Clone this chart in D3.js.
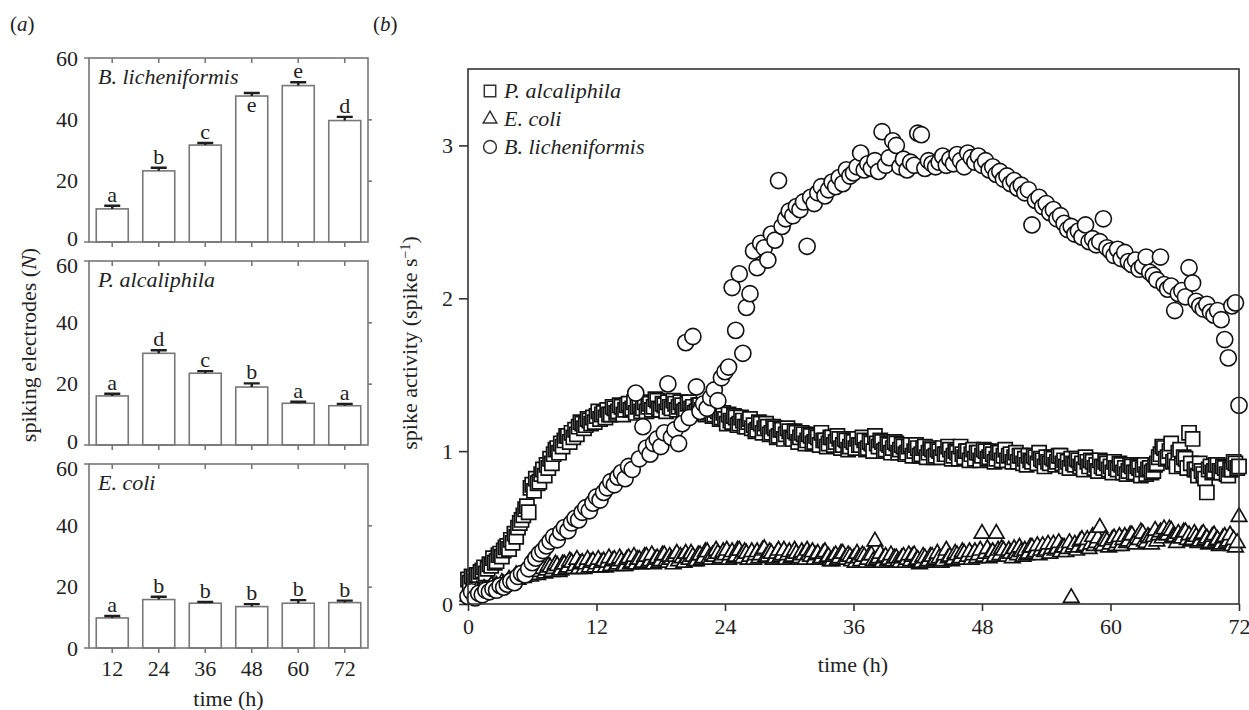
<!DOCTYPE html>
<html>
<head>
<meta charset="utf-8">
<script src="https://cdn.jsdelivr.net/npm/d3@7"></script>
<style>
  body { margin: 0; background: #fff; }
  text { font-family: "Liberation Serif", "Times New Roman", serif; fill: #222; }
</style>
</head>
<body>
<svg id="fig" width="1249" height="710"></svg>
<script>
// ---------- panel (a) data ----------
const hours = ["12", "24", "36", "48", "60", "72"]
const species = ["B. licheniformis", "P. alcaliphila", "E. coli"]

const lichMean = [10.8, 23.2, 31.6, 47.6, 51.0, 39.6]
const lichErr = [1.0, 1.0, 0.7, 1.0, 1.1, 1.2]
const lichLetters = ["a", "b", "c", "e", "e", "d"]

const alcMean = [16.0, 29.9, 23.4, 18.9, 13.6, 12.8]
const alcErr = [0.7, 1.0, 0.7, 1.2, 0.5, 0.6]
const alcLetters = ["a", "d", "c", "b", "a", "a"]

const coliMean = [9.8, 15.8, 14.6, 13.5, 14.6, 14.8]
const coliErr = [0.65, 0.9, 0.45, 0.8, 1.0, 0.65]
const coliLetters = ["a", "b", "b", "b", "b", "b"]

// the one letter written inside the bar (B. licheniformis, 48 h)
const letterInside = [[false, false, false, true, false, false], [], []]

// ---------- panel (b) data ----------
// P. alcaliphila and E. coli: one reading every 10 min; B. licheniformis: every 20 min
const alcStep = 1 / 6
const coliStep = 1 / 6
const lichStep = 1 / 3

const alcSpikes = [
  0.16, 0.14, 0.18, 0.17, 0.15, 0.19, 0.19, 0.21, 0.22, 0.24, 0.20, 0.23,
  0.26, 0.25, 0.30, 0.27, 0.28, 0.32, 0.33, 0.31, 0.35, 0.37, 0.38, 0.36,
  0.42, 0.40, 0.46, 0.44, 0.50, 0.53, 0.55, 0.58, 0.62, 0.64, 0.60, 0.76,
  0.78, 0.74, 0.82, 0.79, 0.80, 0.85, 0.88, 0.84, 0.91, 0.89, 0.95, 0.92,
  0.98, 1.01, 1.02, 0.99, 1.05, 1.03, 1.07, 1.10, 1.10, 1.06, 1.12, 1.09,
  1.14, 1.11, 1.16, 1.19, 1.18, 1.15, 1.17, 1.21, 1.20, 1.18, 1.22, 1.19,
  1.23, 1.26, 1.21, 1.24, 1.25, 1.22, 1.27, 1.24, 1.24, 1.29, 1.28, 1.25,
  1.26, 1.30, 1.29, 1.24, 1.27, 1.30, 1.31, 1.27, 1.28, 1.32, 1.25, 1.29,
  1.30, 1.26, 1.28, 1.32, 1.26, 1.29, 1.31, 1.27, 1.29, 1.34, 1.33, 1.28,
  1.27, 1.31, 1.30, 1.26, 1.32, 1.29, 1.28, 1.33, 1.31, 1.27, 1.29, 1.32,
  1.30, 1.26, 1.27, 1.31, 1.32, 1.28, 1.29, 1.25, 1.26, 1.30, 1.30, 1.27,
  1.28, 1.24, 1.25, 1.29, 1.27, 1.23, 1.24, 1.27, 1.26, 1.21, 1.22, 1.25,
  1.21, 1.18, 1.24, 1.20, 1.19, 1.23, 1.22, 1.17, 1.18, 1.22, 1.20, 1.16,
  1.16, 1.19, 1.21, 1.15, 1.17, 1.13, 1.14, 1.19, 1.18, 1.12, 1.15, 1.18,
  1.16, 1.11, 1.12, 1.16, 1.15, 1.09, 1.10, 1.14, 1.14, 1.08, 1.11, 1.15,
  1.13, 1.09, 1.08, 1.13, 1.12, 1.06, 1.09, 1.12, 1.11, 1.05, 1.07, 1.11,
  1.10, 1.05, 1.06, 1.10, 1.09, 1.04, 1.12, 1.07, 1.07, 1.03, 1.05, 1.09,
  1.09, 1.04, 1.06, 1.10, 1.08, 1.02, 1.04, 1.08, 1.07, 1.01, 1.03, 1.07,
  1.06, 1.02, 1.08, 1.04, 1.04, 1.09, 1.07, 1.01, 1.02, 1.06, 1.05, 1.00,
  1.10, 1.05, 1.03, 1.07, 1.06, 1.00, 1.01, 1.05, 1.04, 0.99, 1.02, 1.06,
  1.05, 0.99, 1.01, 1.04, 1.03, 0.98, 0.99, 1.03, 1.04, 0.97, 1.00, 1.04,
  1.02, 0.97, 0.98, 1.02, 1.03, 0.96, 0.99, 1.02, 1.01, 0.96, 0.97, 1.01,
  1.00, 0.96, 1.02, 0.98, 0.98, 1.03, 1.01, 0.95, 0.97, 1.00, 0.99, 0.95,
  1.03, 0.98, 0.96, 1.00, 1.00, 0.94, 0.98, 1.01, 0.95, 0.99, 0.99, 0.94,
  0.97, 1.01, 1.00, 0.95, 0.96, 1.00, 0.98, 0.93, 0.95, 0.99, 0.99, 0.94,
  0.97, 1.01, 0.94, 0.97, 0.98, 0.93, 0.96, 0.99, 0.93, 0.97, 0.97, 0.92,
  0.95, 0.91, 0.97, 0.94, 0.93, 0.97, 0.96, 0.92, 0.99, 0.95, 0.94, 0.90,
  0.96, 0.93, 0.92, 0.96, 0.95, 0.91, 0.93, 0.97, 0.97, 0.92, 0.94, 0.90,
  0.93, 0.89, 0.95, 0.92, 0.91, 0.95, 0.94, 0.90, 0.92, 0.88, 0.96, 0.93,
  0.90, 0.94, 0.93, 0.89, 0.91, 0.87, 0.94, 0.90, 0.89, 0.93, 0.92, 0.88,
  0.90, 0.86, 0.93, 0.89, 0.88, 0.92, 0.91, 0.86, 0.89, 0.85, 0.87, 0.91,
  0.90, 0.86, 0.86, 0.90, 0.89, 0.84, 0.88, 0.91, 0.85, 0.88, 0.89, 0.86,
  0.87, 0.91, 0.92, 0.96, 0.98, 1.03, 1.02, 0.95, 0.96, 1.00, 1.05, 0.93,
  0.94, 0.90, 0.99, 1.01, 0.91, 0.96, 0.95, 0.89, 1.12, 0.92, 1.08, 0.88,
  0.88, 0.84, 0.92, 0.87, 0.85, 0.82, 0.73, 0.88, 0.90, 0.86, 0.87, 0.91,
  0.91, 0.87, 0.86, 0.90, 0.89, 0.85, 0.84, 0.88, 0.88, 0.93, 0.92, 0.89,
  0.90
]

const coliSpikes = [
  0.05, 0.07, 0.07, 0.05, 0.06, 0.09, 0.08, 0.06, 0.07, 0.10, 0.09, 0.08,
  0.10, 0.12, 0.09, 0.11, 0.12, 0.10, 0.11, 0.14, 0.13, 0.12, 0.14, 0.16,
  0.15, 0.14, 0.17, 0.19, 0.16, 0.18, 0.19, 0.17, 0.18, 0.21, 0.20, 0.18,
  0.19, 0.22, 0.22, 0.19, 0.21, 0.24, 0.23, 0.20, 0.22, 0.25, 0.24, 0.21,
  0.23, 0.26, 0.25, 0.21, 0.22, 0.26, 0.26, 0.23, 0.24, 0.28, 0.27, 0.23,
  0.25, 0.29, 0.23, 0.26, 0.27, 0.23, 0.26, 0.29, 0.24, 0.27, 0.28, 0.24,
  0.26, 0.29, 0.24, 0.27, 0.28, 0.24, 0.27, 0.30, 0.25, 0.28, 0.29, 0.25,
  0.26, 0.30, 0.28, 0.25, 0.25, 0.29, 0.30, 0.26, 0.27, 0.31, 0.26, 0.29,
  0.29, 0.26, 0.27, 0.31, 0.31, 0.27, 0.28, 0.32, 0.26, 0.29, 0.30, 0.27,
  0.28, 0.32, 0.32, 0.28, 0.27, 0.31, 0.29, 0.26, 0.31, 0.33, 0.28, 0.31,
  0.30, 0.27, 0.33, 0.30, 0.29, 0.33, 0.31, 0.28, 0.28, 0.32, 0.32, 0.29,
  0.30, 0.34, 0.34, 0.30, 0.29, 0.32, 0.31, 0.35, 0.33, 0.29, 0.30, 0.34,
  0.32, 0.35, 0.29, 0.32, 0.34, 0.30, 0.31, 0.35, 0.35, 0.31, 0.30, 0.34,
  0.33, 0.29, 0.31, 0.34, 0.29, 0.32, 0.34, 0.30, 0.32, 0.35, 0.36, 0.31,
  0.31, 0.34, 0.33, 0.29, 0.30, 0.33, 0.35, 0.31, 0.32, 0.35, 0.29, 0.32,
  0.34, 0.30, 0.31, 0.35, 0.33, 0.29, 0.30, 0.34, 0.32, 0.29, 0.35, 0.32,
  0.31, 0.34, 0.29, 0.32, 0.33, 0.29, 0.30, 0.33, 0.34, 0.30, 0.31, 0.28,
  0.28, 0.31, 0.32, 0.29, 0.30, 0.33, 0.33, 0.29, 0.29, 0.32, 0.31, 0.28,
  0.30, 0.27, 0.33, 0.30, 0.28, 0.32, 0.31, 0.27, 0.29, 0.32, 0.32, 0.28,
  0.41, 0.29, 0.30, 0.33, 0.27, 0.30, 0.31, 0.28, 0.29, 0.32, 0.28, 0.30,
  0.30, 0.28, 0.27, 0.30, 0.31, 0.27, 0.29, 0.32, 0.28, 0.31, 0.32, 0.28,
  0.29, 0.26, 0.27, 0.31, 0.30, 0.27, 0.28, 0.31, 0.31, 0.28, 0.29, 0.33,
  0.30, 0.27, 0.28, 0.32, 0.35, 0.30, 0.31, 0.28, 0.29, 0.33, 0.32, 0.29,
  0.30, 0.34, 0.33, 0.29, 0.31, 0.34, 0.29, 0.32, 0.34, 0.30, 0.32, 0.35,
  0.46, 0.31, 0.33, 0.36, 0.30, 0.33, 0.34, 0.31, 0.46, 0.35, 0.32, 0.36,
  0.35, 0.31, 0.31, 0.35, 0.33, 0.30, 0.36, 0.33, 0.32, 0.37, 0.34, 0.31,
  0.35, 0.32, 0.33, 0.37, 0.37, 0.33, 0.34, 0.38, 0.32, 0.35, 0.38, 0.34,
  0.35, 0.39, 0.33, 0.36, 0.39, 0.35, 0.36, 0.40, 0.34, 0.37, 0.37, 0.34,
  0.36, 0.40, 0.04, 0.37, 0.39, 0.35, 0.37, 0.41, 0.42, 0.37, 0.38, 0.42,
  0.36, 0.39, 0.44, 0.38, 0.40, 0.43, 0.50, 0.39, 0.38, 0.42, 0.41, 0.37,
  0.39, 0.42, 0.43, 0.38, 0.40, 0.44, 0.38, 0.42, 0.44, 0.40, 0.41, 0.45,
  0.45, 0.40, 0.39, 0.43, 0.42, 0.47, 0.46, 0.41, 0.40, 0.44, 0.43, 0.39,
  0.44, 0.48, 0.41, 0.45, 0.47, 0.43, 0.49, 0.45, 0.45, 0.49, 0.48, 0.44,
  0.44, 0.40, 0.46, 0.43, 0.43, 0.47, 0.47, 0.42, 0.45, 0.41, 0.42, 0.46,
  0.44, 0.40, 0.41, 0.45, 0.46, 0.42, 0.43, 0.39, 0.40, 0.44, 0.45, 0.41,
  0.42, 0.38, 0.39, 0.43, 0.44, 0.40, 0.41, 0.45, 0.38, 0.42, 0.37, 0.40,
  0.57
]

const lichSpikes = [
  0.05, 0.08, 0.04, 0.07, 0.06, 0.09, 0.08, 0.10, 0.09, 0.12, 0.11, 0.13,
  0.15, 0.14, 0.18, 0.20, 0.19, 0.23, 0.27, 0.30, 0.33, 0.35, 0.38, 0.41,
  0.44, 0.42, 0.47, 0.50, 0.48, 0.53, 0.56, 0.55, 0.60, 0.63, 0.61, 0.66,
  0.70, 0.68, 0.73, 0.76, 0.80, 0.78, 0.83, 0.86, 0.82, 0.90, 0.88, 1.38,
  0.95, 1.16, 1.02, 0.98, 1.05, 1.08, 1.03, 1.12, 1.44, 1.09, 1.14, 1.05,
  1.18, 1.71, 1.22, 1.75, 1.42, 1.26, 1.31, 1.28, 1.35, 1.40, 1.33, 1.48,
  1.52, 1.55, 2.07, 1.79, 2.16, 1.64, 1.94, 2.03, 2.31, 2.20, 2.36, 2.33,
  2.25, 2.42, 2.38, 2.77, 2.47, 2.52, 2.57, 2.54, 2.60, 2.58, 2.63, 2.34,
  2.66, 2.62, 2.69, 2.73, 2.67, 2.71, 2.76, 2.73, 2.79, 2.75, 2.84, 2.80,
  2.82, 2.86, 2.95, 2.84, 2.88, 2.85, 2.90, 2.83, 3.09, 2.87, 2.92, 3.03,
  3.00, 2.86, 2.91, 2.84, 2.89, 2.87, 3.08, 3.07, 2.85, 2.90, 2.88, 2.86,
  2.89, 2.93, 2.87, 2.91, 2.88, 2.94, 2.90, 2.86, 2.95, 2.92, 2.89, 2.93,
  2.87, 2.90, 2.84, 2.86, 2.81, 2.83, 2.78, 2.80, 2.75, 2.77, 2.72, 2.74,
  2.69, 2.71, 2.48, 2.64, 2.66, 2.60, 2.62, 2.56, 2.58, 2.52, 2.54, 2.49,
  2.45, 2.47, 2.42, 2.44, 2.40, 2.48, 2.37, 2.39, 2.35, 2.37, 2.52, 2.33,
  2.31, 2.28, 2.32, 2.26, 2.30, 2.24, 2.22, 2.25, 2.19, 2.21, 2.27, 2.17,
  2.15, 2.12, 2.27, 2.09, 2.06, 2.08, 1.92, 2.03, 2.05, 2.01, 2.20, 2.10,
  1.98, 1.95, 1.93, 1.96, 1.91, 1.89, 1.92, 1.86, 1.73, 1.61, 1.95, 1.97,
  1.30
]

const timeTicks = [0, 12, 24, 36, 48, 60, 72]
const spikeTicks = [0, 1, 2, 3]

const svg = d3.select("#fig")
const gray = "#777"
const ink = "#111"

// ================= panel (a) =================
const barPanels = [
  {name: species[0], mean: lichMean, err: lichErr, letters: lichLetters, inside: letterInside[0]},
  {name: species[1], mean: alcMean, err: alcErr, letters: alcLetters, inside: letterInside[1]},
  {name: species[2], mean: coliMean, err: coliErr, letters: coliLetters, inside: letterInside[2]}
]
const aLeft = 89, aRight = 368, aHeight = 184
const aTops = [58, 261, 464]

const xA = d3.scaleBand().domain(hours).range([aLeft, aRight]).paddingInner(0.312).paddingOuter(0.156)

svg.append("text").attr("x", 10).attr("y", 31).style("font-size", "21px")
    .html('(<tspan font-style="italic">a</tspan>)')

barPanels.forEach((p, i) => {
    const top = aTops[i]
    const yA = d3.scaleLinear().domain([0, 60]).range([top + aHeight, top])
    const g = svg.append("g")

    // bars
    g.selectAll("rect.bar").data(p.mean).enter().append("rect")
        .attr("x", (d, j) => xA(hours[j]))
        .attr("y", d => yA(d))
        .attr("width", xA.bandwidth())
        .attr("height", d => yA(0) - yA(d))
        .style("fill", "#fff").style("stroke", gray).style("stroke-width", 1.6)

    // error bars
    g.selectAll("path.err").data(p.mean).enter().append("path")
        .attr("d", (d, j) => {
            const cx = xA(hours[j]) + xA.bandwidth() / 2
            const yTop = yA(d + p.err[j])
            return "M" + cx + "," + yA(d) + "V" + yTop + "M" + (cx - 8) + "," + yTop + "H" + (cx + 8)
        })
        .style("fill", "none").style("stroke", "#1e1e1e").style("stroke-width", 2.4)

    // significance letters
    g.selectAll("text.lt").data(p.letters).enter().append("text")
        .attr("x", (d, j) => xA(hours[j]) + xA.bandwidth() / 2)
        .attr("y", (d, j) => p.inside[j] ? yA(p.mean[j]) + 16 : yA(p.mean[j] + p.err[j]) - 4)
        .attr("text-anchor", "middle").style("font-size", "22px")
        .text(d => d)

    // frame
    g.append("rect").attr("x", aLeft).attr("y", top).attr("width", aRight - aLeft).attr("height", aHeight)
        .style("fill", "none").style("stroke", gray).style("stroke-width", 1.6)
    g.append("path").attr("d", "M" + (aLeft - 5) + "," + yA(0) + "H" + aLeft + "M" + (aLeft - 5) + "," + yA(60) + "H" + aLeft)
        .style("stroke", gray).style("stroke-width", 1.6)

    // axes
    const left = g.append("g").attr("transform", "translate(" + aLeft + ",0)")
        .call(d3.axisLeft(yA).tickValues([0, 20, 40, 60]).tickSize(0).tickPadding(11))
    // panels sit close together: pull the 0 label up and the 60 label down a little
    left.selectAll(".tick text")
        .attr("y", d => (d === 0 && i < 2) ? -4 : (d === 60 && i > 0) ? 4 : 0)
    const right = g.append("g").attr("transform", "translate(" + aRight + ",0)")
        .call(d3.axisRight(yA).tickValues([20, 40]).tickSize(4).tickFormat(""))
    const topAx = g.append("g").attr("transform", "translate(0," + top + ")")
        .call(d3.axisTop(xA).tickSize(-5).tickFormat(""))
    const bottom = g.append("g").attr("transform", "translate(0," + yA(0) + ")")
        .call(d3.axisBottom(xA).tickSize(5).tickPadding(7).tickFormat(i === 2 ? (d => d) : ""))
    ;[left, right, topAx, bottom].forEach(ax => {
        ax.select(".domain").remove()
        ax.selectAll("line").style("stroke", gray).style("stroke-width", 1.6)
        ax.selectAll("text").style("font-family", "Liberation Serif").style("font-size", "22px").style("fill", "#222")
    })

    g.append("text").attr("x", aLeft + 9).attr("y", top + 26)
        .style("font-size", "22px").style("font-style", "italic").text(p.name)
})

svg.append("text").attr("x", (aLeft + aRight) / 2).attr("y", 706).attr("text-anchor", "middle")
    .style("font-size", "22px").text("time (h)")
svg.append("text").attr("transform", "translate(36,345) rotate(-90)").attr("text-anchor", "middle")
    .style("font-size", "22px")
    .html('spiking electrodes (<tspan font-style="italic">N</tspan>)')

// ================= panel (b) =================
const xB = d3.scaleLinear().domain([0, 72]).range([468, 1239])
const yB = d3.scaleLinear().domain([0, 3.5]).range([604, 69])

svg.append("text").attr("x", 373).attr("y", 31).style("font-size", "21px")
    .html('(<tspan font-style="italic">b</tspan>)')

const gb = svg.append("g")
const axL = gb.append("g").attr("transform", "translate(468,0)")
    .call(d3.axisLeft(yB).tickValues(spikeTicks).tickSize(9).tickPadding(6).tickFormat(d3.format("d")))
const axB = gb.append("g").attr("transform", "translate(0,604)")
    .call(d3.axisBottom(xB).tickValues(timeTicks).tickSize(7).tickPadding(7))
;[axL, axB].forEach(ax => {
    ax.select(".domain").remove()
    ax.selectAll("line").style("stroke", "#333").style("stroke-width", 1.6)
    ax.selectAll("text").style("font-family", "Liberation Serif").style("font-size", "22px").style("fill", "#222")
})

const seriesB = [
    {values: alcSpikes, step: alcStep, type: d3.symbolSquare, size: 200, sw: 1.7},
    {values: coliSpikes, step: coliStep, type: d3.symbolTriangle, size: 105, sw: 1.7},
    {values: lichSpikes, step: lichStep, type: d3.symbolCircle, size: 205, sw: 1.6}
]
seriesB.forEach(s => {
    gb.append("g").selectAll("path").data(s.values).enter().append("path")
        .attr("d", d3.symbol().type(s.type).size(s.size))
        .attr("transform", (d, i) => "translate(" + xB(i * s.step) + "," + yB(d) + ")")
        .style("fill", "#fff").style("stroke", ink).style("stroke-width", s.sw)
})

gb.append("rect").attr("x", 468).attr("y", 69).attr("width", 1239 - 468).attr("height", 604 - 69)
    .style("fill", "none").style("stroke", "#333").style("stroke-width", 1.6)

// legend
const legendItems = [
    {name: species[1], type: d3.symbolSquare, size: 130},
    {name: species[2], type: d3.symbolTriangle, size: 80},
    {name: species[0], type: d3.symbolCircle, size: 130}
]
const lg = gb.append("g").selectAll("g").data(legendItems).enter().append("g")
    .attr("transform", (d, i) => "translate(490," + (91 + i * 28) + ")")
lg.append("path").attr("d", d => d3.symbol().type(d.type).size(d.size)())
    .style("fill", "#fff").style("stroke", "#333").style("stroke-width", 1.5)
lg.append("text").attr("x", 14).attr("y", 7).style("font-size", "22px").style("font-style", "italic")
    .text(d => d.name)

svg.append("text").attr("x", 853).attr("y", 672).attr("text-anchor", "middle")
    .style("font-size", "22px").text("time (h)")
svg.append("text").attr("transform", "translate(417,343) rotate(-90)").attr("text-anchor", "middle")
    .style("font-size", "22px")
    .html('spike activity (spike s<tspan baseline-shift="super" font-size="14px">\u22121</tspan>)')
</script>
</body>
</html>
